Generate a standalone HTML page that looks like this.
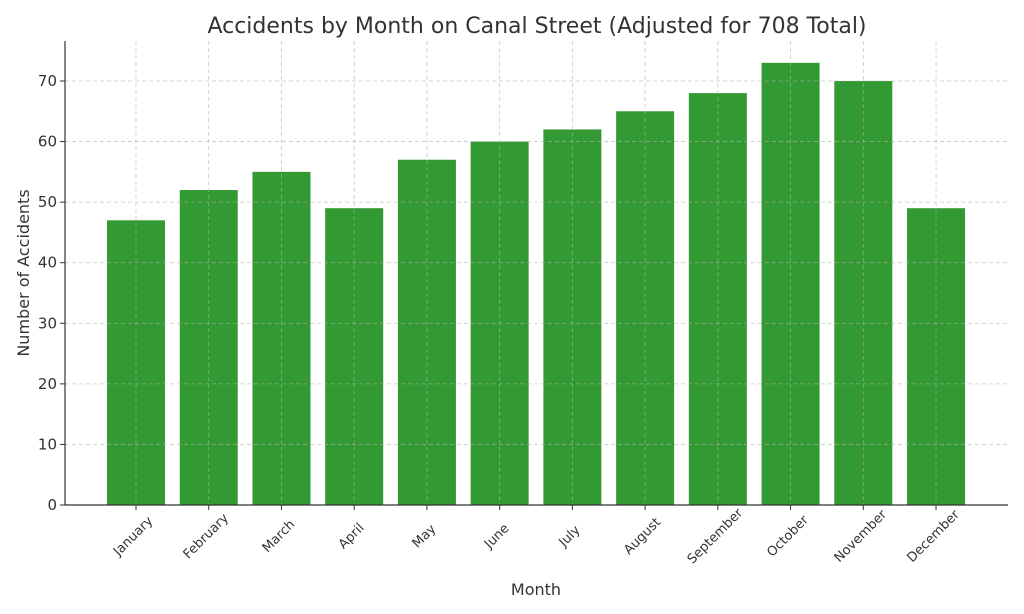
<!DOCTYPE html>
<html><head><meta charset="utf-8"><style>
body{margin:0;background:#fff;}
svg{display:block;font-family:"DejaVu Sans","Liberation Sans",sans-serif;}
</style></head><body>
<svg id="chart" width="1024" height="614">
<text x="537" y="33" text-anchor="middle" font-size="22" fill="#333">Accidents by Month on Canal Street (Adjusted for 708 Total)</text>
<g id="bars"></g>
<g id="grid"></g>
<g id="axes"></g>
<text x="536" y="595" text-anchor="middle" font-size="16" fill="#333">Month</text>
<text transform="translate(29,273) rotate(-90)" text-anchor="middle" font-size="16" fill="#333">Number of Accidents</text>
</svg>
<script>
const categories=["January","February","March","April","May","June","July","August","September","October","November","December"];
const values=[47,52,55,49,57,60,62,65,68,73,70,49];
const yTicks=[0,10,20,30,40,50,60,70];
const NS="http://www.w3.org/2000/svg";
const L=65,R=1008,T=41,B=505;
function x(i){return 136+72.73*i;}
function y(v){return B-v*(424/70);}
const bw=58;
function mk(tag,attrs,parent){const e=document.createElementNS(NS,tag);for(const k in attrs)e.setAttribute(k,attrs[k]);parent.appendChild(e);return e;}
const bars=document.getElementById('bars'),grid=document.getElementById('grid'),axes=document.getElementById('axes');
values.forEach((v,i)=>{
  const r=mk('rect',{x:x(i)-bw/2,y:y(v),width:bw,height:B-y(v),fill:'#339933'},bars);
  
  
});
yTicks.forEach(t=>{
  const g=mk('line',{x1:L,x2:R,y1:y(t),y2:y(t),stroke:'#b0b0b0','stroke-opacity':0.7,'stroke-dasharray':'4,3','stroke-width':0.8},grid);
  
  
  mk('line',{x1:L-5,x2:L,y1:y(t),y2:y(t),stroke:'#333'},axes);
  const lb=mk('text',{x:L-8,y:y(t)+5,'text-anchor':'end','font-size':15,fill:'#333'},axes);
  lb.textContent=t;
  
  
});
categories.forEach((c,i)=>{
  const g=mk('line',{x1:x(i),x2:x(i),y1:T,y2:B,stroke:'#b0b0b0','stroke-opacity':0.7,'stroke-dasharray':'4,3','stroke-width':0.8},grid);
  
  
  mk('line',{x1:x(i),x2:x(i),y1:B,y2:B+5,stroke:'#333'},axes);
  const lb=mk('text',{x:0,y:0,'text-anchor':'middle','font-size':13,fill:'#333',transform:'translate('+x(i)+','+539+') rotate(-45)'},axes);
  lb.textContent=c;
  
  
});
mk('line',{x1:L,x2:L,y1:T,y2:B,stroke:'#333','stroke-width':1.2},axes);
mk('line',{x1:L,x2:R,y1:B,y2:B,stroke:'#333','stroke-width':1.2},axes);
</script>
</body></html>
